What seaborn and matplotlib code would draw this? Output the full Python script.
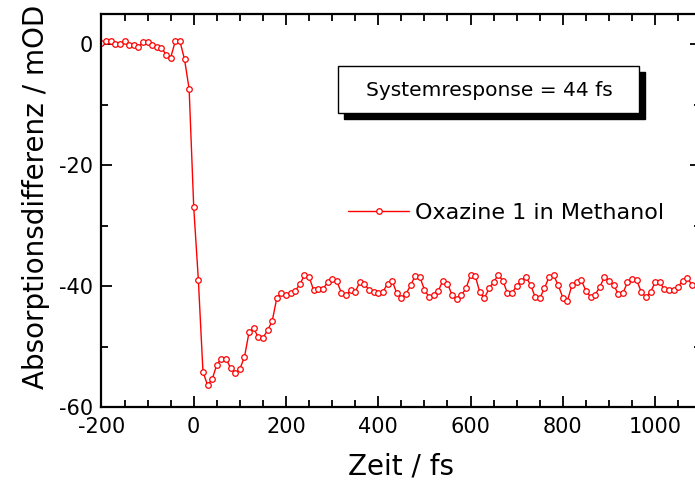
import numpy as np
import pandas as pd
import seaborn as sns
import matplotlib
matplotlib.use("Agg")
import matplotlib.pyplot as plt
from matplotlib.ticker import MultipleLocator
from matplotlib.patches import Rectangle

# ---- data ----
time_fs = np.arange(-200, 1090, 10)
delta_od = [
    0.2, 0.55, 0.55, 0.0, 0.0, 0.5, -0.15, -0.05, -0.4, 0.3,
    0.3, -0.05, -0.45, -0.6, -1.7, -2.2, 0.5, 0.5, -2.5, -7.4,
    -27.0, -39.0, -54.2, -56.4, -55.4, -53.0, -52.0, -52.0, -53.6, -54.4,
    -53.7, -51.7, -47.6, -47.0, -48.5, -48.6, -47.3, -45.8, -42.0, -41.1,
    -41.4, -41.2, -40.8, -39.7, -38.2, -38.5, -40.7, -40.5, -40.5, -39.4,
    -38.9, -39.2, -41.1, -41.5, -40.7, -41.0, -39.3, -39.6, -40.7, -41.0,
    -41.1, -41.0, -39.6, -39.1, -41.2, -41.9, -41.3, -39.9, -38.3, -38.5,
    -40.6, -41.8, -41.4, -40.8, -39.1, -39.6, -41.5, -42.2, -41.5, -40.4,
    -38.2, -38.3, -41.0, -42.0, -40.4, -39.3, -38.2, -39.1, -41.2, -41.1,
    -40.0, -39.1, -38.5, -39.8, -41.8, -42.0, -40.4, -38.5, -38.2, -39.9,
    -41.9, -42.4, -39.8, -39.4, -39.0, -40.8, -41.8, -41.4, -40.2, -38.5,
    -39.1, -39.8, -41.3, -41.2, -39.4, -38.9, -39.0, -41.0, -41.8, -41.0,
    -39.4, -39.4, -40.5, -40.7, -40.7, -40.1, -39.1, -38.6, -39.9,
]
series_name = "Oxazine 1 in Methanol"
box_text = "Systemresponse = 44 fs"
x_label = "Zeit / fs"
y_label = "Absorptionsdifferenz / mOD"

df = pd.DataFrame({"t": time_fs, "od": delta_od, "s": series_name})

sns.set_theme(style="ticks")
plt.rcParams["font.family"] = ["DejaVu Sans"]
plt.rcParams["axes.unicode_minus"] = False

W, H = 695, 486
fig = plt.figure(figsize=(W / 100, H / 100), dpi=100)
ax = fig.add_axes([0.146, 0.1626, 0.863, 0.8086])

sns.lineplot(data=df, x="t", y="od", hue="s", palette=["#ff0000"], ax=ax,
             marker="o", markersize=4, markerfacecolor="white",
             markeredgecolor="#ff0000", markeredgewidth=0.9, linewidth=1.0)

ax.set_xlim(-200, 1100)
ax.set_ylim(-60, 5)
ax.xaxis.set_major_locator(MultipleLocator(200))
ax.xaxis.set_minor_locator(MultipleLocator(50))
ax.yaxis.set_major_locator(MultipleLocator(20))
ax.yaxis.set_minor_locator(MultipleLocator(10))
ax.tick_params(which="both", direction="in", top=True, right=True,
               width=1.3, color="black", labelsize=15, labelcolor="black")
ax.tick_params(which="major", length=8)
ax.tick_params(which="minor", length=5)
ax.tick_params(axis="y", pad=6)
ax.tick_params(axis="x", pad=7)
for sp in ax.spines.values():
    sp.set_linewidth(1.6)
    sp.set_color("black")

ax.set_xlabel(x_label, fontsize=20, color="black")
ax.set_ylabel(y_label, fontsize=20, color="black")
ax.xaxis.set_label_coords(0.5, -0.115)
ax.yaxis.set_label_coords(-0.085, 0.534)

leg = ax.legend(loc="center left", bbox_to_anchor=(0.411, 0.494), frameon=False,
                fontsize=16, handlelength=2.75, handletextpad=0.25,
                borderpad=0, borderaxespad=0)
for t in leg.get_texts():
    t.set_color("black")

# text box with drop shadow (figure pixel geometry)
def fr(x0, y0, x1, y1):
    return (x0 / W, 1 - y1 / H), (x1 - x0) / W, (y1 - y0) / H

xy, w, h = fr(344, 72, 645, 119)
fig.patches.append(Rectangle(xy, w, h, transform=fig.transFigure,
                             facecolor="black", edgecolor="black", zorder=5))
xy, w, h = fr(338, 66, 639, 113)
fig.patches.append(Rectangle(xy, w, h, transform=fig.transFigure,
                             facecolor="white", edgecolor="black", linewidth=1.0, zorder=6))
fig.text(489 / W, 1 - 90 / H, box_text, ha="center", va="center",
         fontsize=14.5, color="black", zorder=7)

fig.savefig("out.png", dpi=100)
